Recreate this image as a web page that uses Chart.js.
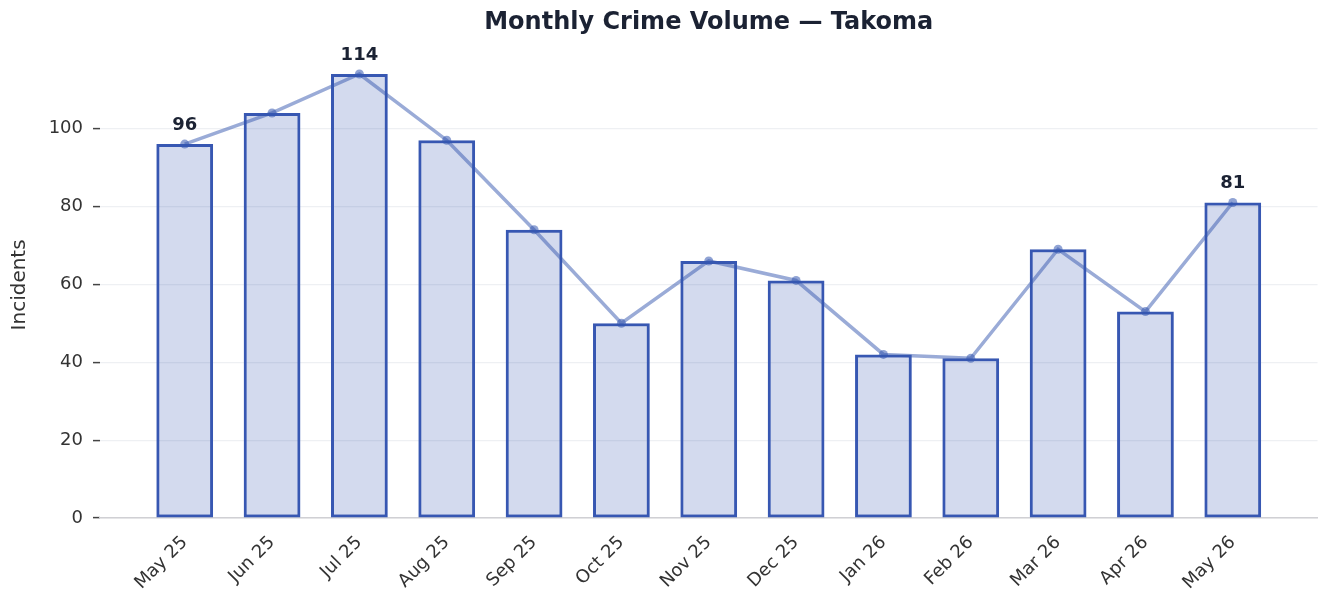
<!DOCTYPE html>
<html>
<head>
<meta charset="utf-8">
<script src="https://cdn.jsdelivr.net/npm/chart.js@4/dist/chart.umd.min.js"></script>
<style>
  html, body { margin: 0; padding: 0; background: #fff; }
  #wrap { width: 1322px; height: 591px; }
</style>
</head>
<body>
<div id="wrap"><canvas id="myCanvas" width="1322" height="591"></canvas></div>
<script>
const months = ["May 25", "Jun 25", "Jul 25", "Aug 25", "Sep 25", "Oct 25", "Nov 25",
  "Dec 25", "Jan 26", "Feb 26", "Mar 26", "Apr 26", "May 26"];
const incidents = [96, 104, 114, 97, 74, 50, 66, 61, 42, 41, 69, 53, 81];
const yTicks = [0, 20, 40, 60, 80, 100];
const labelled = [0, 2, 12]; // first, peak, last

const points = incidents.map((v, i) => ({ x: i, y: v }));

// draw value labels above a few points
const valueLabels = {
  id: "valueLabels",
  afterDatasetsDraw(chart) {
    const ctx = chart.ctx;
    const meta = chart.getDatasetMeta(1);
    ctx.save();
    ctx.font = "bold 18px 'DejaVu Sans'";
    ctx.fillStyle = "#1b2233";
    ctx.textAlign = "center";
    ctx.textBaseline = "middle";
    labelled.forEach(i => {
      const pt = meta.data[i];
      ctx.fillText(String(incidents[i]), pt.x, pt.y - 19);
    });
    ctx.restore();
  }
};

new Chart(document.getElementById("myCanvas"), {
  type: "bar",
  data: {
    datasets: [
      {
        type: "bar",
        data: points,
        backgroundColor: "rgba(53, 87, 176, 0.22)",
        borderColor: "#3757b2",
        borderWidth: 3,
        borderSkipped: false,
        categoryPercentage: 1,
        barPercentage: 0.65,
        order: 1
      },
      {
        type: "line",
        data: points,
        borderColor: "rgba(53, 87, 176, 0.5)",
        backgroundColor: "rgba(53, 87, 176, 0.55)",
        borderWidth: 3.5,
        pointRadius: 4.5,
        pointBorderWidth: 0,
        tension: 0,
        order: 0
      }
    ]
  },
  options: {
    responsive: false,
    animation: false,
    layout: { padding: { left: 0, right: 2, top: 0, bottom: 0 } },
    plugins: {
      legend: { display: false },
      tooltip: { enabled: false },
      title: {
        display: true,
        fullSize: false,
        text: "Monthly Crime Volume — Takoma",
        color: "#1b2233",
        font: { family: "DejaVu Sans", size: 24, weight: "bold" },
        padding: { top: 8, bottom: 15 }
      }
    },
    scales: {
      x: {
        type: "linear",
        offset: false,
        min: -0.97,
        max: 12.97,
        grid: { display: false },
        border: { display: true, color: "#d0d0d4", width: 1.5 },
        afterBuildTicks: s => { s.ticks = months.map((m, i) => ({ value: i })); },
        afterFit: s => { s.height = 73; },
        ticks: {
          autoSkip: false,
          maxRotation: 45,
          minRotation: 45,
          padding: 6,
          color: "#333",
          font: { family: "DejaVu Sans", size: 18 },
          callback: v => months[v]
        }
      },
      y: {
        min: 0,
        max: 119.7,
        afterBuildTicks: s => { s.ticks = yTicks.map(v => ({ value: v })); },
        afterFit: s => { s.width = 100; },
        border: { display: false },
        grid: {
          color: "#eef0f3",
          lineWidth: 1.2,
          tickColor: "#444",
          tickLength: 7,
          tickWidth: 1.5
        },
        ticks: {
          padding: 10,
          color: "#333",
          font: { family: "DejaVu Sans", size: 18 }
        },
        title: {
          display: true,
          text: "Incidents",
          color: "#333",
          font: { family: "DejaVu Sans", size: 20 },
          padding: { top: 8, bottom: 0 }
        }
      }
    }
  },
  plugins: [valueLabels]
});
</script>
</body>
</html>
